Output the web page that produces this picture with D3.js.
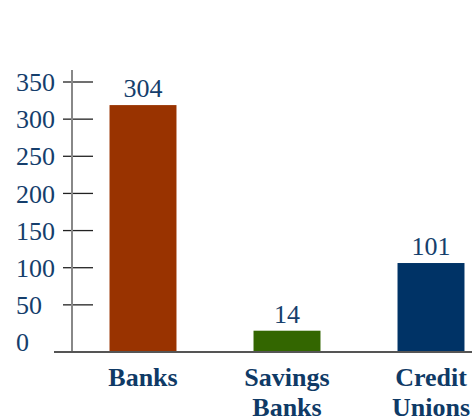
<!DOCTYPE html>
<html>
<head>
<meta charset="utf-8">
<script src="https://cdn.jsdelivr.net/npm/d3@7"></script>
<style>
  html, body { margin: 0; padding: 0; background: #fff; }
  svg { display: block; }
</style>
</head>
<body>
<div id="chart"></div>
<script>
// data
var categories = [["Banks"], ["Savings", "Banks"], ["Credit", "Unions"]];
var values = [304, 14, 101];
var barColors = ["#993300", "#336600", "#003366"];
var tickValues = [0, 50, 100, 150, 200, 250, 300, 350];

var W = 472, H = 417;
var baseY = 352;
var textColor = "#153e6c";

var svg = d3.select("#chart").append("svg")
    .attr("width", W)
    .attr("height", H);

var x = d3.scaleBand()
    .domain(d3.range(values.length))
    .range([71, 503])
    .paddingInner(0.535)
    .paddingOuter(0.2675);

// axis scale (ticks) and bar scale are slightly different in the original
var yAxis = d3.scaleLinear().domain([0, 350]).range([342, 82]);
var yBar = d3.scaleLinear().domain([0, 350]).range([341.6, 341.6 - 350 * 0.778]);

// tick labels, left aligned
svg.append("g").selectAll("text")
    .data(tickValues)
    .enter().append("text")
    .attr("x", 16)
    .attr("y", function (d) { return yAxis(d); })
    .attr("dy", "0.35em")
    .attr("text-anchor", "start")
    .attr("font-family", "Liberation Serif, Times New Roman, serif")
    .attr("font-size", 26)
    .attr("fill", textColor)
    .text(function (d) { return d; });

// tick marks (zero has none)
svg.append("g").selectAll("line")
    .data(tickValues.filter(function (d) { return d > 0; }))
    .enter().append("line")
    .attr("x1", 63).attr("x2", 93)
    .attr("y1", function (d) { return yAxis(d); })
    .attr("y2", function (d) { return yAxis(d); })
    .attr("stroke", "#222")
    .attr("stroke-width", 1.3);

// vertical axis
svg.append("line")
    .attr("x1", 72).attr("x2", 72)
    .attr("y1", 70).attr("y2", baseY)
    .attr("stroke", "#888")
    .attr("stroke-width", 2);

// bars
svg.append("g").selectAll("rect")
    .data(values)
    .enter().append("rect")
    .attr("x", function (d, i) { return x(i); })
    .attr("width", x.bandwidth())
    .attr("y", function (d) { return yBar(d); })
    .attr("height", function (d) { return baseY - yBar(d); })
    .attr("fill", function (d, i) { return barColors[i]; });

// baseline
svg.append("line")
    .attr("x1", 54).attr("x2", W)
    .attr("y1", baseY).attr("y2", baseY)
    .attr("stroke", "#555")
    .attr("stroke-width", 2);

// value labels
svg.append("g").selectAll("text")
    .data(values)
    .enter().append("text")
    .attr("x", function (d, i) { return x(i) + x.bandwidth() / 2; })
    .attr("y", function (d) { return yBar(d) - 8; })
    .attr("text-anchor", "middle")
    .attr("font-family", "Liberation Serif, Times New Roman, serif")
    .attr("font-size", 26)
    .attr("fill", textColor)
    .text(function (d) { return d; });

// category labels
var cat = svg.append("g").selectAll("text")
    .data(categories)
    .enter().append("text")
    .attr("x", function (d, i) { return x(i) + x.bandwidth() / 2; })
    .attr("y", 386)
    .attr("text-anchor", "middle")
    .attr("font-family", "Liberation Serif, Times New Roman, serif")
    .attr("font-weight", "bold")
    .attr("font-size", 26)
    .attr("fill", "#0f3a66");

cat.selectAll("tspan")
    .data(function (d) { return d; })
    .enter().append("tspan")
    .attr("x", function () { return d3.select(this.parentNode).attr("x"); })
    .attr("dy", function (d, i) { return i === 0 ? 0 : 30; })
    .text(function (d) { return d; });
</script>
</body>
</html>
